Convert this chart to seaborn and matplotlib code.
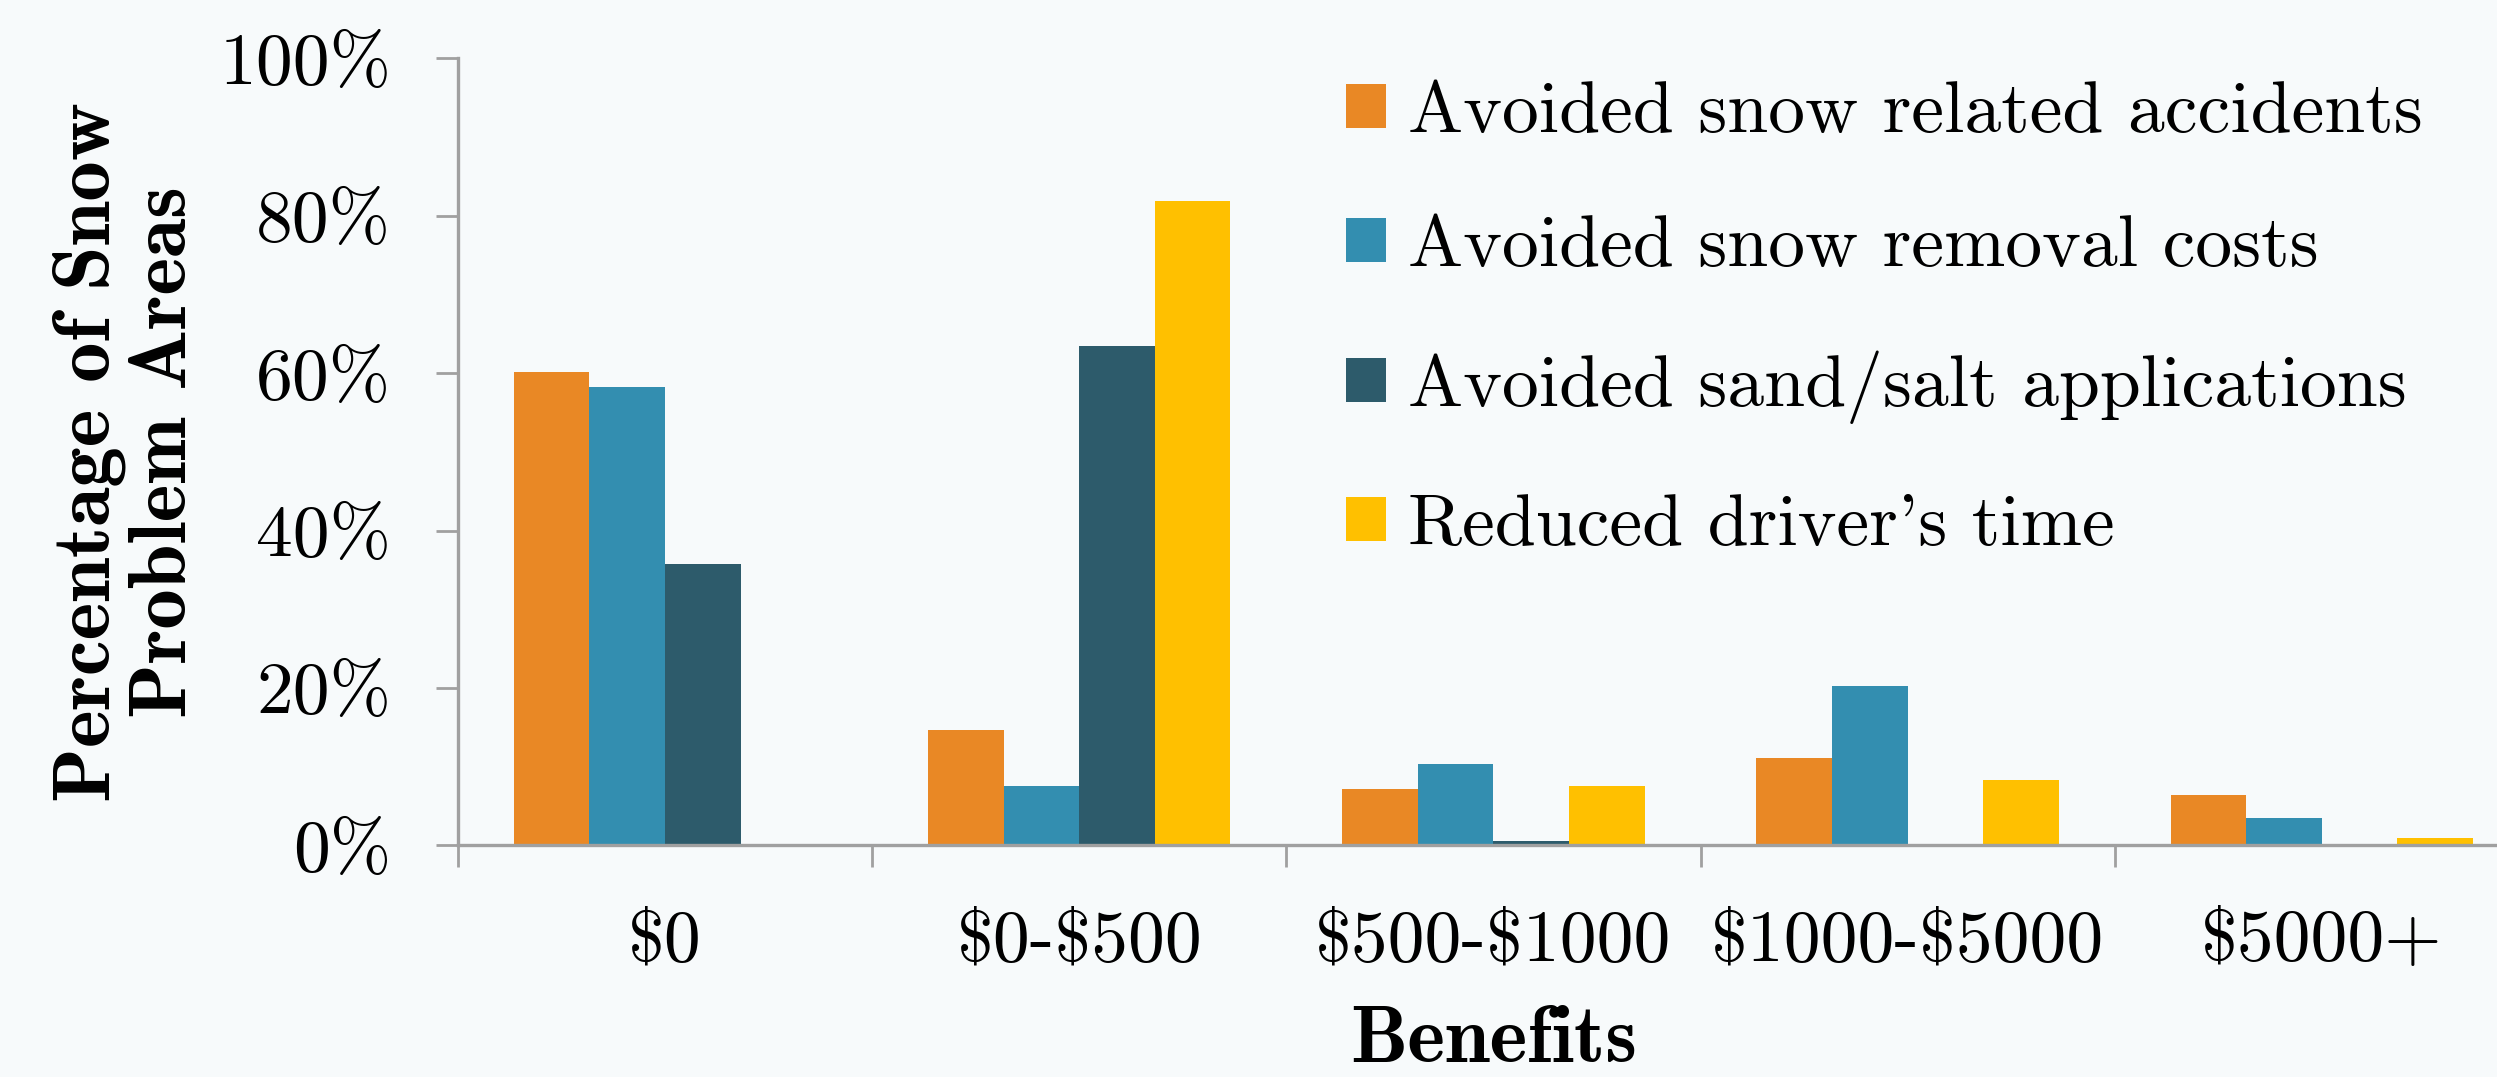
import pandas as pd
import matplotlib
matplotlib.use("Agg")
import matplotlib.pyplot as plt
import seaborn as sns

# Chart data (percent of snow problem areas)
benefits = ["$0", "$0-$500", "$500-$1000", "$1000-$5000", "$5000+"]
series = ["Avoided snow related accidents", "Avoided snow removal costs",
          "Avoided sand/salt applications", "Reduced driver's time"]
accidents = [60.2, 14.7, 7.2, 11.1, 6.4]
removal = [58.2, 7.5, 10.4, 20.3, 3.5]
sand_salt = [35.7, 63.5, 0.6, 0.0, 0.0]
driver_time = [0.0, 81.9, 7.6, 8.3, 0.9]
colors = ["#E98825", "#338EB0", "#2D5B6B", "#FFC000"]

BG = "#F7FAFB"
GREY = "#A0A0A0"


def build_frame():
    values = [accidents, removal, sand_salt, driver_time]
    rows = []
    for name, vals in zip(series, values):
        for cat, v in zip(benefits, vals):
            rows.append({"benefit": cat, "series": name, "pct": v})
    return pd.DataFrame(rows)


def main():
    sns.set_style("ticks")
    plt.rcParams["font.family"] = ["cmr10", "DejaVu Serif"]
    plt.rcParams["axes.formatter.use_mathtext"] = True
    plt.rcParams["text.parse_math"] = False
    plt.rcParams["text.color"] = "black"
    plt.rcParams["axes.labelcolor"] = "black"
    plt.rcParams["xtick.labelcolor"] = "black"
    plt.rcParams["ytick.labelcolor"] = "black"

    data = build_frame()

    fig = plt.figure(figsize=(24.97, 10.77), dpi=100, facecolor=BG)
    # the category axis runs a little past the right edge, as in the source
    ax = fig.add_axes([0.1834, 0.2150, 0.8294, 0.7309])
    ax.set_facecolor(BG)

    sns.barplot(data=data, x="benefit", y="pct", hue="series", order=benefits,
                hue_order=series, palette=colors, saturation=1, width=0.73,
                linewidth=0, ax=ax)

    ax.set_ylim(0, 100)
    ax.set_xlim(-0.5, 4.5)
    ax.set_yticks(range(0, 101, 20))
    ax.set_yticklabels([f"{v}%" for v in range(0, 101, 20)], fontsize=53)

    # ticks on the category boundaries, labels in the middle
    ax.set_xticks([i - 0.5 for i in range(len(benefits) + 1)])
    ax.set_xticklabels([])
    ax.set_xticks(range(len(benefits)), minor=True)
    ax.set_xticklabels(benefits, minor=True, fontsize=53)
    ax.tick_params(axis="x", which="minor", length=0, pad=46)
    ax.tick_params(axis="both", which="major", length=16, width=2, color=GREY)
    ax.tick_params(axis="y", pad=32)
    ax.tick_params(axis="both", which="both", labelcolor="black")

    sns.despine(ax=ax)
    for side in ["left", "bottom"]:
        ax.spines[side].set_color(GREY)
        ax.spines[side].set_linewidth(2.4)

    ax.set_xlabel("Benefits", fontsize=58, family="cmb10", color="black")
    ax.xaxis.set_label_coords(0.5, -0.203)
    ax.set_ylabel("Percentage of Snow\nProblem Areas", fontsize=58,
                  family="cmb10", va="center", linespacing=1.05, color="black")
    ax.yaxis.set_label_coords(-0.1595, 0.5)

    handles, labels = ax.get_legend_handles_labels()
    ax.legend(handles, labels, loc="upper left", bbox_to_anchor=(0.539, 0.925),
              bbox_transform=fig.transFigure, frameon=False, fontsize=53,
              handlelength=0.54, handleheight=0.54, handletextpad=0.3,
              labelspacing=0.95, borderpad=0, borderaxespad=0,
              labelcolor="black")

    fig.savefig("out.png", dpi=100, facecolor=BG)


if __name__ == "__main__":
    main()
